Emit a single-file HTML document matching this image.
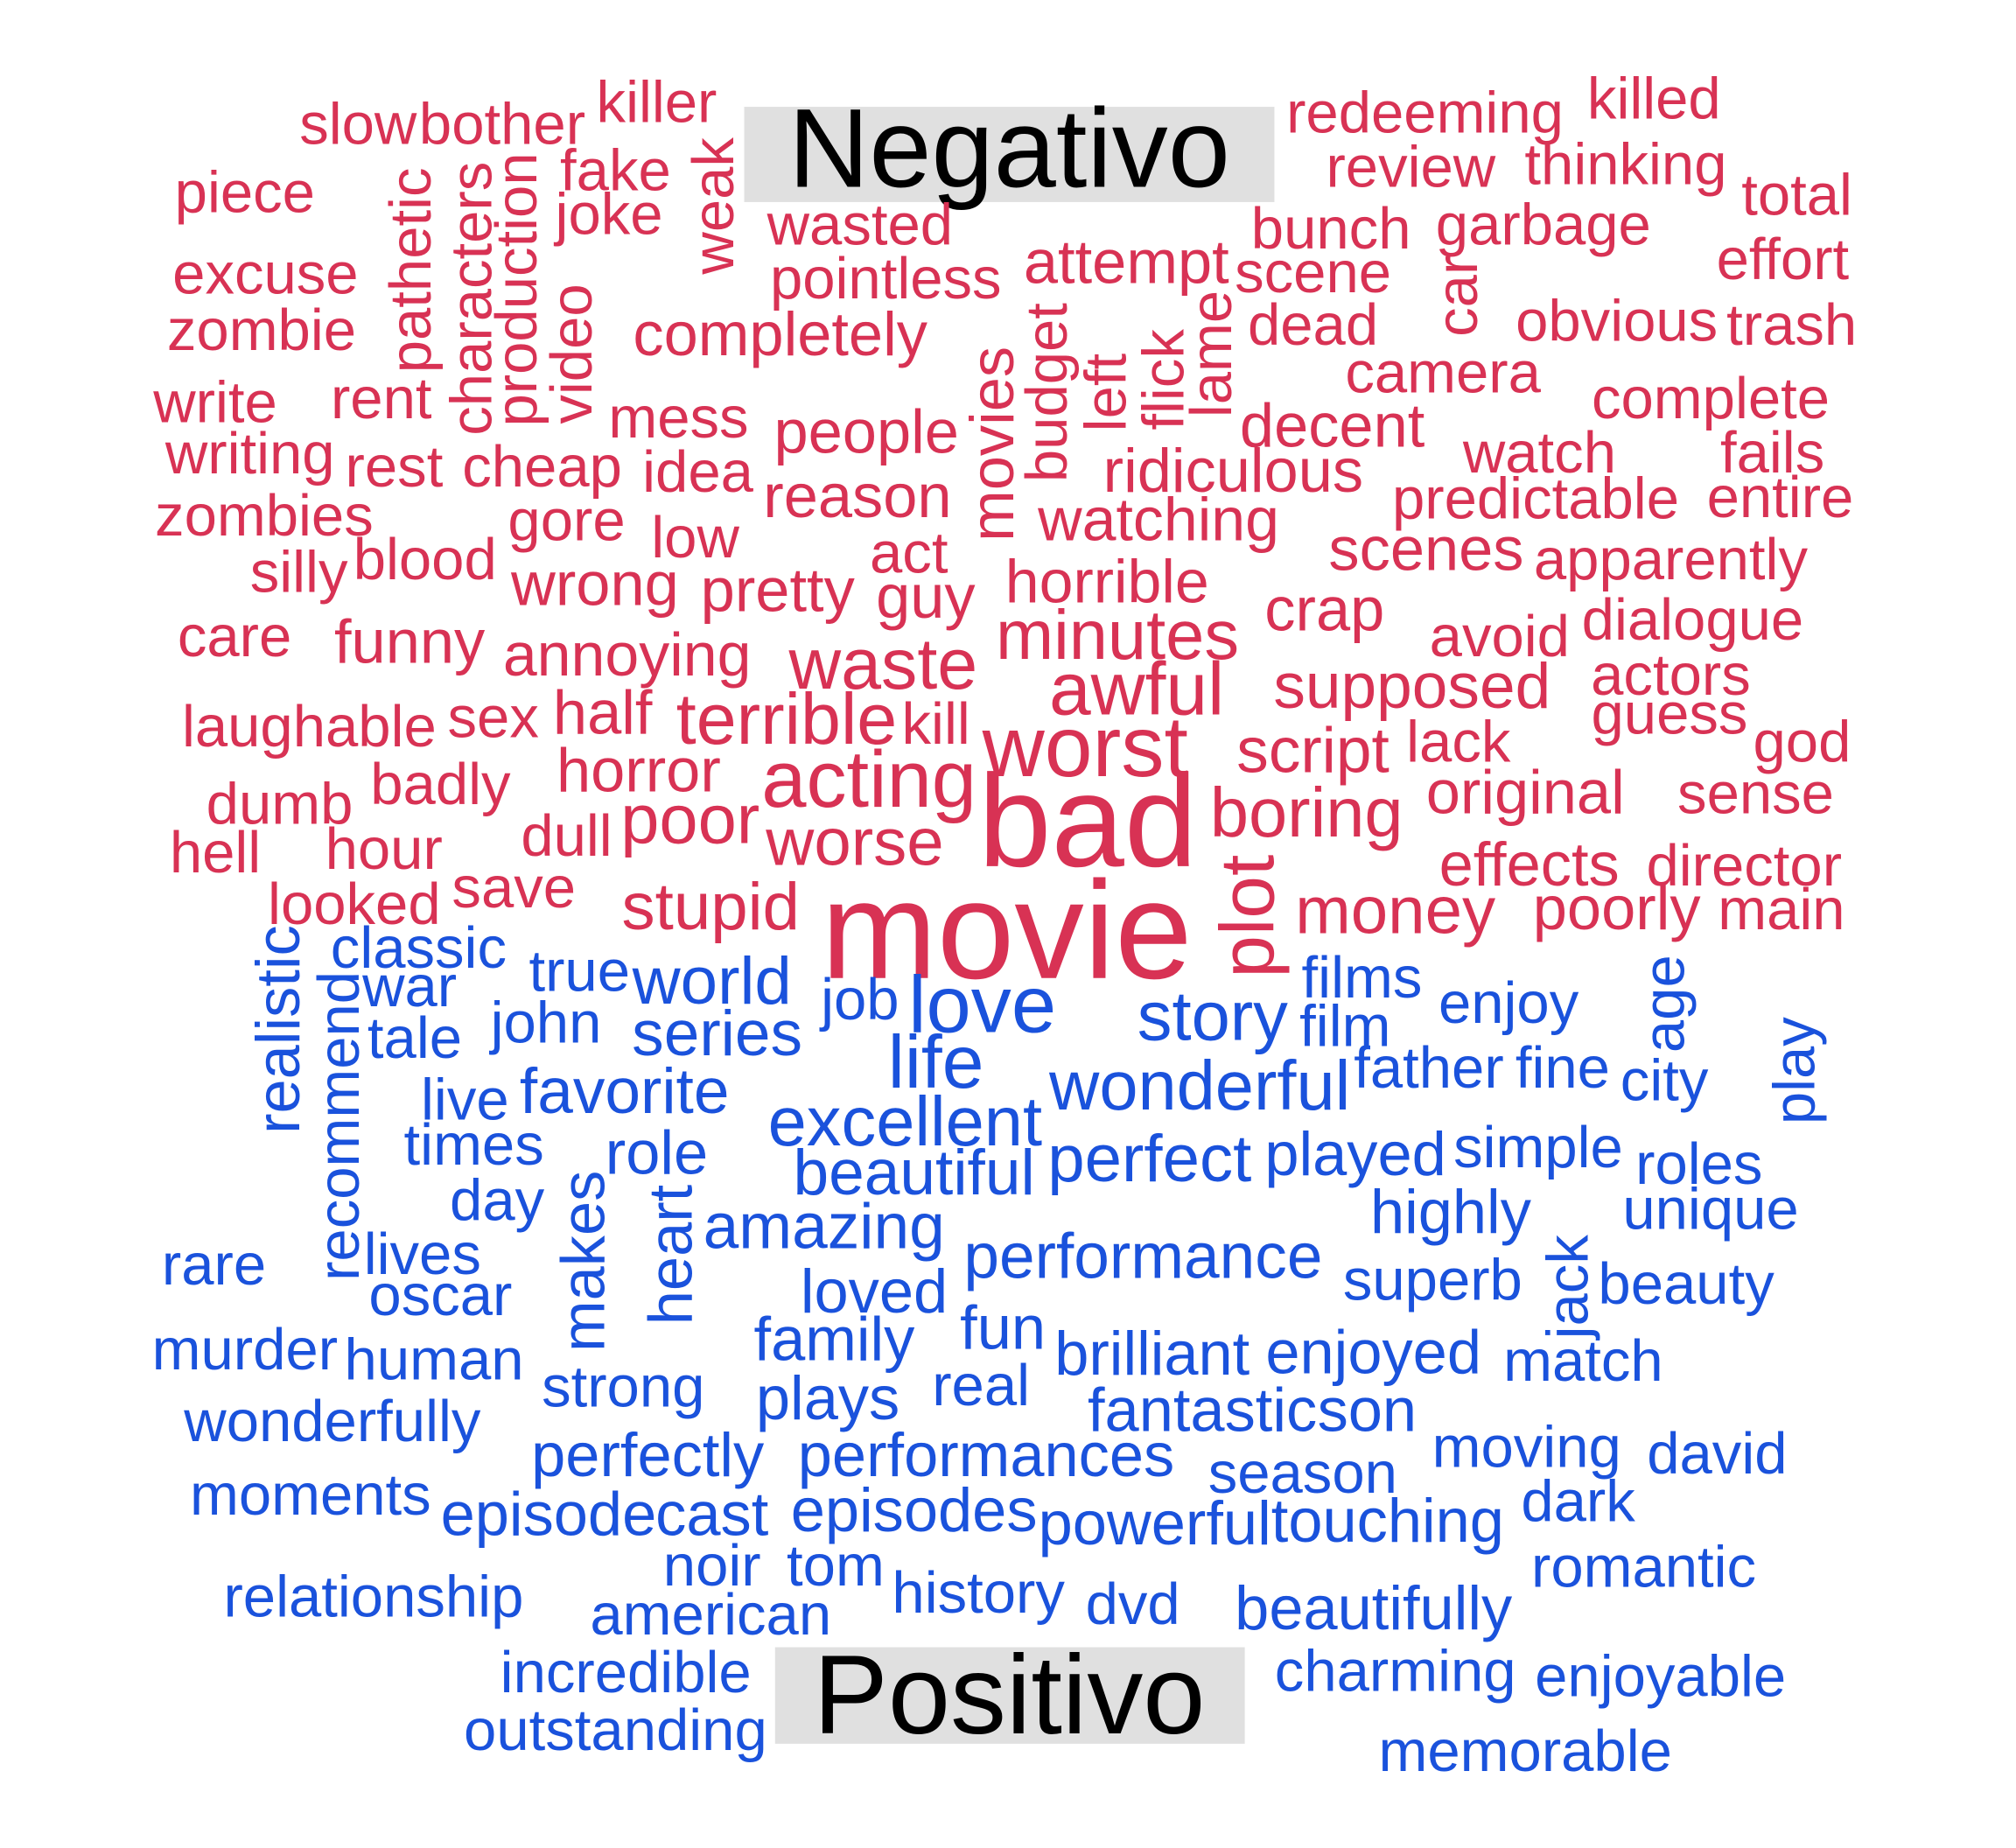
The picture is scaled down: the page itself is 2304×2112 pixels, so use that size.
<!DOCTYPE html>
<html><head><meta charset="utf-8"><style>
html,body{margin:0;padding:0;background:#fff}
svg{display:block}
text{font-family:"Liberation Sans",Arial,sans-serif}
</style></head><body>
<svg id="wc" width="2304" height="2112" viewBox="0 0 1566 1436" xmlns="http://www.w3.org/2000/svg">
<rect x="578" y="83" width="412" height="74" fill="#e0e0e0"/>
<text x="784" y="145" font-size="87" text-anchor="middle" fill="#000">Negativo</text>
<rect x="602" y="1280" width="365" height="75" fill="#e0e0e0"/>
<text x="784" y="1347" font-size="87" text-anchor="middle" fill="#000">Positivo</text>
<g id="words"></g>
</svg>
<script>
// word, center-x, baseline-y (or center-y if rotated), size, rotated
const negWords = [
["slow",278,112,40,0],["bother",390,112,40,0],["killer",510,95,40,0],["weak",553,160,40,1],["fake",478,148,40,0],["joke",473,182,40,0],["piece",190,165,40,0],
["pathetic",318,210,40,1],["characters",365,232,40,1],["production",400,225,40,1],["video",443,275,40,1],["wasted",668,190,40,0],["pointless",688,232,40,0],
["completely",606,276,42,0],["excuse",206,228,40,0],["zombie",203,272,40,0],["write",167,328,40,0],["rent",296,325,40,0],["writing",194,368,40,0],["rest",306,378,40,0],
["cheap",421,378,40,0],["idea",542,382,40,0],["mess",527,340,40,0],["people",673,352,42,0],["reason",666,402,42,0],["zombies",205,416,40,0],["gore",440,420,40,0],
["low",540,433,40,0],["silly",232,460,40,0],["blood",330,450,40,0],["wrong",462,470,42,0],["pretty",604,475,42,0],["act",706,445,40,0],["guy",719,480,42,0],
["movies",770,345,42,1],["budget",812,305,40,1],["left",858,305,40,1],["flick",903,295,40,1],["lame",940,275,40,1],["attempt",875,220,42,0],["horrible",860,468,44,0],
["watching",900,420,44,0],["ridiculous",958,382,42,0],["minutes",868,512,50,0],["awful",883,555,54,0],["worst",843,603,62,0],["bad",845,673,100,0],["movie",782,760,106,0],
["plot",968,712,55,1],["care",182,510,40,0],["funny",318,515,42,0],["annoying",487,525,44,0],["waste",686,535,52,0],["terrible",611,578,52,0],["kill",727,578,40,0],
["half",468,570,42,0],["sex",383,573,40,0],["laughable",240,580,40,0],["acting",675,627,58,0],["horror",496,615,42,0],["badly",342,625,40,0],["dumb",217,640,40,0],
["poor",536,655,50,0],["worse",664,672,48,0],["dull",440,665,40,0],["hell",167,678,40,0],["hour",298,675,40,0],["save",399,705,40,0],["looked",275,718,40,0],
["stupid",552,722,48,0],["redeeming",1107,103,40,0],["killed",1285,92,40,0],["review",1096,145,40,0],["thinking",1263,143,40,0],["total",1396,167,40,0],["bunch",1034,193,40,0],
["garbage",1199,190,40,0],["effort",1385,217,40,0],["scene",1020,227,40,0],["car",1131,230,40,1],["dead",1020,268,40,0],["obvious",1256,265,40,0],["trash",1392,268,40,0],
["camera",1121,305,40,0],["complete",1329,325,40,0],["decent",1035,347,42,0],["watch",1196,367,40,0],["fails",1377,367,40,0],["predictable",1193,403,40,0],["entire",1383,402,40,0],
["scenes",1108,443,42,0],["apparently",1298,450,40,0],["crap",1029,490,42,0],["avoid",1165,510,40,0],["dialogue",1315,497,40,0],["actors",1298,540,40,0],["supposed",1097,550,46,0],
["guess",1297,570,40,0],["lack",1133,592,40,0],["god",1400,592,40,0],["script",1020,600,46,0],["original",1185,632,42,0],["sense",1364,632,40,0],["boring",1015,650,50,0],
["effects",1188,688,42,0],["director",1355,688,40,0],["money",1084,725,48,0],["poorly",1256,722,42,0],["main",1384,722,40,0]
];
const posWords = [
["realistic",215,800,42,1],["classic",325,752,40,0],["war",318,782,40,0],["recommend",262,875,40,1],["true",450,770,40,0],["john",424,810,40,0],["world",553,780,48,0],
["job",668,792,40,0],["love",763,802,58,0],["story",942,808,50,0],["films",1058,775,40,0],["film",1045,813,40,0],["enjoy",1172,795,40,0],["age",1292,780,40,1],
["play",1393,832,40,1],["tale",322,822,40,0],["series",557,820,46,0],["life",727,845,54,0],["wonderful",932,862,50,0],["father",1110,845,40,0],["fine",1214,845,40,0],
["city",1293,855,40,0],["live",361,870,40,0],["favorite",485,865,46,0],["excellent",703,890,50,0],["times",368,905,40,0],["role",510,912,42,0],["beautiful",710,928,46,0],
["perfect",893,918,48,0],["played",1053,913,42,0],["simple",1195,907,40,0],["roles",1320,920,40,0],["day",386,948,40,0],["makes",452,980,42,1],["heart",520,975,42,1],
["highly",1127,958,42,0],["unique",1329,955,40,0],["amazing",640,970,46,0],["rare",166,998,40,0],["lives",328,990,40,0],["performance",888,993,46,0],["superb",1113,1010,40,0],
["beauty",1310,1013,40,0],["oscar",342,1022,40,0],["loved",679,1020,42,0],["jack",1217,1000,40,1],["murder",190,1064,40,0],["family",648,1057,42,0],["fun",779,1048,42,0],
["brilliant",895,1068,42,0],["enjoyed",1067,1067,42,0],["match",1230,1073,40,0],["human",337,1072,40,0],["strong",484,1093,40,0],["real",762,1092,40,0],["plays",643,1103,42,0],
["fantastic",934,1112,42,0],["son",1062,1112,42,0],["wonderfully",258,1120,40,0],["moving",1186,1140,40,0],["perfectly",503,1147,42,0],["performances",766,1147,42,0],
["david",1334,1145,40,0],["season",1012,1160,40,0],["moments",241,1177,40,0],["episode",426,1193,42,0],["cast",553,1193,42,0],["episodes",710,1190,42,0],["dark",1226,1182,40,0],
["powerful",897,1200,42,0],["touching",1078,1198,42,0],["noir",553,1232,40,0],["tom",649,1232,40,0],["romantic",1277,1233,40,0],["history",760,1253,40,0],
["relationship",290,1256,40,0],["dvd",880,1262,40,0],["beautifully",1067,1266,42,0],["american",552,1270,40,0],["incredible",486,1315,40,0],["charming",1084,1314,40,0],
["enjoyable",1290,1318,40,0],["outstanding",478,1360,40,0],["memorable",1185,1376,40,0]
];
const NS="http://www.w3.org/2000/svg";
const g=document.getElementById('words');
function fsize(s){return s<=42?s*1.14:(s<70?s*1.08:s*1.02);}
function draw(list,color,group){
  list.forEach(w=>{
    const t=document.createElementNS(NS,'text');
    
    
    const s=fsize(w[3]);
    t.setAttribute('font-size',s);
    t.setAttribute('fill',color);
    t.setAttribute('text-anchor','middle');
    if(w[4]){
      const bx=w[1]+s*0.36;
      t.setAttribute('x',bx);t.setAttribute('y',w[2]);
      t.setAttribute('transform','rotate(-90 '+bx+' '+w[2]+')');
    } else {
      t.setAttribute('x',w[1]);t.setAttribute('y',w[2]);
    }
    t.textContent=w[0];
    g.appendChild(t);
  });
}
draw(negWords,'#d83254','negative');
draw(posWords,'#1a52dc','positive');
</script>
</body></html>
